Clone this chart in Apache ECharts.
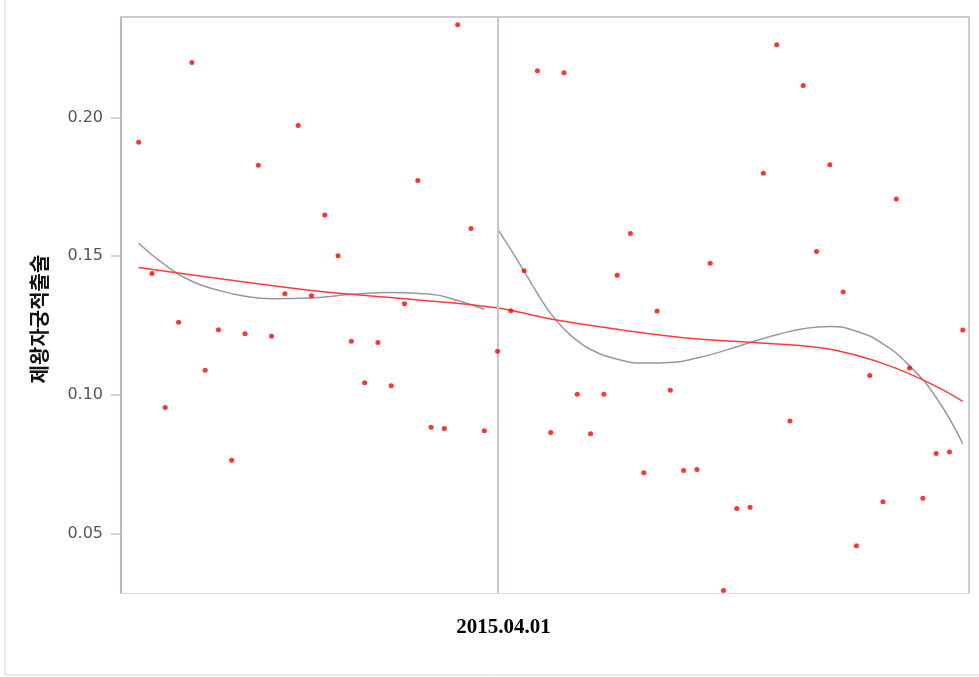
<!DOCTYPE html>
<html>
<head>
<meta charset="utf-8">
<script src="https://cdn.jsdelivr.net/npm/echarts@6/dist/echarts.min.js"></script>
<style>
  html, body { margin: 0; padding: 0; background: #fff; }
  #chart { width: 979px; height: 677px; }
</style>
</head>
<body>
<div id="chart"></div>
<script>
// Monthly rate values, one per period (index 0..62)
const rates = [
  0.1910, 0.1437, 0.0954, 0.1261, 0.2198, 0.1088, 0.1234, 0.0764, 0.1220, 0.1827,
  0.1211, 0.1364, 0.1971, 0.1357, 0.1648, 0.1501, 0.1193, 0.1043, 0.1188, 0.1032,
  0.1328, 0.1772, 0.0883, 0.0878, 0.2334, 0.1599, 0.0870, 0.1157, 0.1303, 0.1447,
  0.2168, 0.0864, 0.2161, 0.1002, 0.0859, 0.1002, 0.1431, 0.1581, 0.0719, 0.1302,
  0.1016, 0.0727, 0.0730, 0.1474, 0.0294, 0.0590, 0.0594, 0.1799, 0.2262, 0.0905,
  0.2115, 0.1516, 0.1829, 0.1370, 0.0455, 0.1069, 0.0614, 0.1706, 0.1096, 0.0627,
  0.0788, 0.0793, 0.1233
];

// Overall trend (red)
const overallTrendIdx = [0, 6, 13, 20, 27, 31, 36, 41, 46, 51, 54, 57, 60, 62];
const overallTrendVal = [0.1459, 0.1419, 0.1376, 0.1346, 0.1313, 0.1273, 0.1236, 0.1205, 0.1189, 0.1171, 0.1142, 0.1095, 0.1030, 0.0976];

// Trend before the change point (grey)
const beforeTrendIdx = [0, 2, 4, 6, 8, 10, 13, 16, 19, 22, 24, 26];
const beforeTrendVal = [0.1546, 0.1467, 0.1409, 0.1377, 0.1355, 0.1346, 0.1349, 0.1362, 0.1369, 0.1362, 0.1340, 0.1308];

// Trend after the change point (grey)
const afterTrendIdx = [27, 28, 29, 30, 31, 32, 33, 34, 36, 38, 40, 42, 44, 46, 48, 50, 52, 54, 56, 58, 60, 62];
const afterTrendVal = [0.1598, 0.1523, 0.1445, 0.1365, 0.1293, 0.1237, 0.1195, 0.1163, 0.1128, 0.1114, 0.1116, 0.1132,
                       0.1158, 0.1188, 0.1216, 0.1238, 0.1246, 0.1229, 0.1183, 0.1104, 0.0990, 0.0823];

const yTicks = [0.05, 0.10, 0.15, 0.20];
const dividerIndex = 27;
const dividerLabel = '2015.04.01';
const yTitle = '제왕자궁적출술';

const zip = (xs, ys) => xs.map((x, k) => [x, ys[k]]);

const chart = echarts.init(document.getElementById('chart'), null, { renderer: 'canvas' });

const xMin = -1.33, xMax = 62.47;
const yMin = 0.0285, yMax = 0.2362;

chart.setOption({
  animation: false,
  backgroundColor: '#fff',
  graphic: [{
    type: 'rect',
    shape: { x: 5, y: -5, width: 990, height: 680 },
    style: { fill: 'none', stroke: '#d8d8d8', lineWidth: 1 },
    silent: true
  }],
  grid: { left: 121, right: 10, top: 17, bottom: 84 },
  xAxis: [{
    type: 'value',
    min: xMin, max: xMax,
    axisLine: { show: true, onZero: false, lineStyle: { color: '#dcdcdc', width: 1 } },
    axisTick: { show: false },
    splitLine: { show: false },
    axisLabel: {
      customValues: [dividerIndex],
      formatter: () => dividerLabel,
      margin: 24,
      padding: [0, 0, 0, 12],
      fontFamily: '"Liberation Serif", "Times New Roman", serif',
      fontWeight: 'bold',
      fontSize: 21,
      color: '#000'
    }
  }, {
    type: 'value',
    position: 'top',
    min: xMin, max: xMax,
    axisLine: { show: true, onZero: false, lineStyle: { color: '#c9cdd1', width: 2 } },
    axisTick: { show: false },
    axisLabel: { show: false },
    splitLine: { show: false }
  }],
  yAxis: [{
    type: 'value',
    min: yMin, max: yMax,
    name: yTitle,
    nameLocation: 'middle',
    nameRotate: 90,
    nameGap: 72,
    nameTextStyle: {
      fontFamily: '"Noto Sans CJK KR", sans-serif',
      fontSize: 20,
      fontWeight: 'bold',
      color: '#111',
      padding: [0, 28, 0, 0]
    },
    axisLine: { show: true, onZero: false, lineStyle: { color: '#b3b9be', width: 2 } },
    axisTick: {
      show: true, length: 10, inside: false,
      customValues: yTicks,
      lineStyle: { color: '#c4c8cc', width: 1.5 }
    },
    axisLabel: {
      customValues: yTicks,
      formatter: v => v.toFixed(2),
      margin: 18,
      fontFamily: '"DejaVu Sans", sans-serif',
      fontSize: 16,
      color: '#555'
    },
    splitLine: { show: false }
  }, {
    type: 'value',
    position: 'right',
    min: yMin, max: yMax,
    axisLine: { show: true, onZero: false, lineStyle: { color: '#c9cdd1', width: 2 } },
    axisTick: { show: false },
    axisLabel: { show: false },
    splitLine: { show: false }
  }],
  series: [{
    type: 'scatter',
    data: rates.map((v, i) => [i, v]),
    symbol: 'circle',
    symbolSize: 5,
    itemStyle: { color: '#ff0000' },
    z: 5,
    markLine: {
      silent: true,
      symbol: ['none', 'none'],
      label: { show: false },
      lineStyle: { color: '#c5c9cd', width: 2, type: 'solid' },
      data: [{ xAxis: dividerIndex }]
    }
  }, {
    type: 'line',
    data: zip(beforeTrendIdx, beforeTrendVal),
    smooth: 0.5,
    showSymbol: false,
    lineStyle: { color: '#999999', width: 1.5 },
    z: 3
  }, {
    type: 'line',
    data: zip(afterTrendIdx, afterTrendVal),
    smooth: 0.5,
    showSymbol: false,
    lineStyle: { color: '#999999', width: 1.5 },
    z: 3
  }, {
    type: 'line',
    data: zip(overallTrendIdx, overallTrendVal),
    smooth: 0.4,
    showSymbol: false,
    lineStyle: { color: '#ff3b3b', width: 1.5 },
    z: 4
  }]
});
</script>
</body>
</html>
